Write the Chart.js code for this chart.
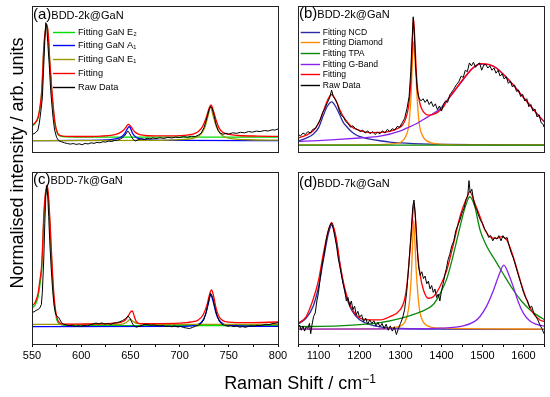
<!DOCTYPE html>
<html>
<head>
<meta charset="utf-8">
<script src="https://cdn.jsdelivr.net/npm/chart.js@4.4.1/dist/chart.umd.min.js"></script>
<style>
  body { margin: 0; background: #fff; }
  #fig { position: relative; width: 550px; height: 397px; overflow: hidden; font-family: Arial, "Liberation Sans", sans-serif; color: #000; }
  #fig canvas { position: absolute; left: 0; top: 0; }
  #titreX { position: absolute; left: 150px; width: 300px; top: 373px; text-align: center; font-size: 18px; line-height: 20px; white-space: nowrap; }
  #titreX sup { font-size: 12px; position: relative; top: -6px; vertical-align: baseline; }
  #titreY { position: absolute; left: -133px; top: 153px; width: 300px; height: 20px; line-height: 20px; text-align: center; font-size: 18px; white-space: nowrap; transform: rotate(-90deg); }
</style>
</head>
<body>
<div id="fig">
  <canvas id="chartA" width="550" height="397"></canvas>
  <canvas id="chartB" width="550" height="397"></canvas>
  <canvas id="chartC" width="550" height="397"></canvas>
  <canvas id="chartD" width="550" height="397"></canvas>
  <div id="titreX">Raman Shift / cm<sup>−1</sup></div>
  <div id="titreY">Normalised intensity / arb. units</div>
</div>
<script>
'use strict';

//labels des axes
const ticksGaN = [550, 600, 650, 700, 750, 800];
const ticksDiam = [1100, 1200, 1300, 1400, 1500, 1600];

const lettres = ['(a)', '(b)', '(c)', '(d)'];
const echantillons = ['BDD-2k@GaN', 'BDD-2k@GaN', 'BDD-7k@GaN', 'BDD-7k@GaN'];

const legendeGaN = ['Fitting GaN E₂', 'Fitting GaN A₁', 'Fitting GaN E₁', 'Fitting', 'Raw Data'];
const couleursGaN = ['#00dd00', '#0000ff', '#999900', '#ff0000', '#000000'];
const legendeDiam = ['Fitting NCD', 'Fitting Diamond', 'Fitting TPA', 'Fitting G-Band', 'Fitting', 'Raw Data'];
const couleursDiam = ['#2a2aa8', '#ff8c00', '#0a8a0a', '#8822ee', '#ff0000', '#000000'];

// ---- (a) BDD-2k@GaN, zone GaN : [shift, intensite]
const aE2 = [[550,17.5],[553,19.5],[556,23],[558,30],[560,42],[562,70],[563.5,82],[565,86.5],[566.5,80],[568,62],[570,42],[571.5,30],[573.5,18.5],[576,12.5],[579,10.8],[585,10.3],[600,10.2],[700,10.2],[800,10.2]];
const aA1 = [[550,7.8],[600,7.9],[625,8.3],[635,9],[641,10.5],[644.5,13],[647,16],[648.5,17.3],[650,16.5],[652,13],[655,10.5],[660,9],[670,8.3],[700,7.9],[800,7.8]];
const aE1 = [[550,7.8],[680,8],[705,8.6],[716,9.8],[722,12.5],[726,17.5],[729,25],[731.5,31],[734,25],[737,18],[741,13],[746,10.3],[755,9],[770,8.4],[800,8.1]];
const aFit = [[550,18.3],[553,20],[556,23.5],[558,30],[560,43],[562,72],[563.5,83],[565,87.5],[566.5,81],[568,63],[570,44],[571.5,32],[573.5,19.5],[576,13],[579,11.3],[585,10.7],[600,10.6],[620,10.9],[632,11.6],[638,12.8],[642,14.3],[645,16.5],[648,18.9],[651,17],[654,14],[658,12.2],[665,11.3],[680,11],[700,11.2],[712,12],[718,13.5],[723,17],[727,23.5],[730,30],[732,32.3],[734,29],[737,22],[740,16.5],[744,13.5],[750,12],[760,11.3],[780,10.9],[800,10.7]];
const aRaw = [[550,12.2],[552,12.5],[554,13.5],[556,15],[557.5,20],[559,28],[560.5,37],[562,60],[563,76],[564,88.6],[565,86],[566,75],[567.5,60],[569,42],[570.5,30],[571.5,23],[573,15],[575,10],[577,7.8],[580,7],[583,6.3],[586,5.8],[589,5.4],[592,5.8],[595,5.2],[598,5.6],[601,5],[604,5.9],[607,5.5],[610,6.3],[613,5.9],[616,6.6],[619,6.3],[622,7],[625,6.8],[628,7.5],[631,7.2],[634,7.9],[637,8.1],[640,9],[642,9.8],[644,11],[646,13],[647.5,14.3],[649,13],[651,10.5],[653,8.5],[655,7.6],[658,8.4],[661,9.1],[664,8.6],[667,9.4],[670,9],[673,9.6],[676,9.2],[680,9.7],[684,9.3],[688,10],[692,9.6],[696,10.2],[700,9.9],[704,10.5],[708,10.1],[712,10.8],[716,10.6],[719,11.5],[722,13],[725,17],[728,24],[730,29],[731.5,31.3],[733,30],[735,25],[737,19],[739,15],[741,13],[744,12.2],[747,12.7],[750,12.3],[754,13.1],[758,12.8],[762,13.5],[766,13.1],[770,14],[774,13.6],[778,14.3],[782,14],[786,14.7],[790,14.4],[794,15.2],[797,15],[800,15.8]];

// ---- (c) BDD-7k@GaN
const cE2 = [[550,20.7],[553,22.5],[556,27],[558,34],[560,45],[562,72],[563.5,85],[565.5,91],[567,82],[568.5,66],[570.5,42],[572.5,25],[575,14.5],[578,11.6],[582,10.9],[590,10.7],[800,10.7]];
const cA1 = [[550,10.1],[700,10.2],[715,10.8],[722,12.5],[726,16.5],[729,23],[731.5,28.5],[734,25],[737,18],[740,14],[745,11.5],[755,10.6],[800,10.2]];
const cE1 = [[550,11.4],[640,11.4],[646,12.5],[650,14.5],[653,13],[658,11.8],[670,11.4],[800,11.4]];
const cFit = [[550,22.1],[553,24],[556,29],[558,37],[560,47],[562,75],[563.5,87],[565.5,92.4],[567,84],[568.5,69],[570.5,45],[572.5,27],[575,16],[578,12.3],[582,11.6],[590,11.5],[610,11.7],[630,12],[640,12.6],[645,14],[648,16.5],[650,18.5],[652,19.2],[654,16],[656,13],[660,11.9],[680,11.9],[700,12.1],[712,12.8],[719,14],[724,17],[728,23],[730.5,29],[732.5,31.4],[734.5,28],[737,21],[740,16],[744,13.6],[750,12.7],[770,12.4],[800,12.8]];
const cRaw = [[550,18.8],[552,18.6],[554,19.5],[556,20],[558,21],[559.5,23],[560.5,30],[562,50],[563,70],[564,86],[565,92],[566,86],[567,74],[568,60],[569.5,44],[571,31],[572.5,22],[574,17.5],[575.5,16],[577,15.5],[578.5,14],[580,12.5],[582,11.5],[585,11],[588,10.6],[591,10.9],[594,10.2],[597,10.6],[600,10.3],[603,10.8],[606,10.4],[609,11.2],[612,11.6],[615,12.2],[618,11.7],[621,12.3],[624,11.6],[627,12],[630,11.4],[633,12.1],[636,12.4],[639,12.9],[642,13.6],[645,14.7],[647.5,16.3],[649.5,15],[651.5,12.5],[653.5,10.6],[656,9.8],[659,10.3],[662,10.9],[665,11.5],[668,11.2],[671,10.9],[674,11.1],[677,10.7],[680,10.5],[683,10.8],[686,10.2],[689,10.4],[692,10],[695,10.5],[698,9.9],[701,10.2],[704,9.6],[707,9.3],[710,9],[713,9.6],[716,10.3],[719,10.8],[722,12],[724.5,14],[727,18.5],[729.5,25],[731.5,29.5],[733.5,27.5],[735.5,22],[738,16.5],[740.5,13],[743,11.5],[746,10.8],[749,10.3],[752,10.6],[755,10.1],[758,10.5],[761,9.8],[764,10.1],[767,9.7],[770,10.3],[773,10.6],[776,10.3],[779,10.9],[782,10.6],[785,11.1],[788,11.4],[791,11.2],[794,11.8],[797,12.1],[800,12.3]];

// ---- (b) BDD-2k@GaN, zone diamant
const bNCD = [[1050,7.6],[1070,9.5],[1087,12.2],[1100,16.5],[1112,25.3],[1122,31.5],[1132,34.3],[1142,31],[1152,25.3],[1160,20.5],[1169,17.3],[1180,14],[1193,11.5],[1210,9.8],[1226,8.8],[1250,7.7],[1274,6.8],[1300,6.2],[1331,5.8],[1413,5.2],[1500,5],[1650,4.8]];
const bDiam = [[1050,4.8],[1200,4.9],[1260,5.2],[1285,5.8],[1299,6.5],[1308,8.5],[1315,12.2],[1320,18],[1323,27],[1326,40],[1329,63],[1331.5,75.5],[1334,68],[1338,51],[1341,35],[1343,27],[1347,17],[1351,13],[1357,9.5],[1364,7.6],[1375,6.3],[1388,5.6],[1420,5.1],[1500,4.9],[1650,4.8]];
const bTPA = [[1050,4.7],[1350,4.7],[1650,4.7]];
const bG = [[1050,7.2],[1100,7.8],[1150,8.6],[1200,9.6],[1250,10.8],[1300,14.5],[1315,16.3],[1336,19],[1356,22.3],[1378,26],[1396,29.5],[1413,35],[1430,41],[1453,49.5],[1475,57],[1494,60.2],[1515,59.8],[1535,57.2],[1555,52],[1575,46],[1595,39],[1616,32],[1635,25.5],[1652,20.3]];
const bFit = [[1050,9.6],[1070,11.5],[1087,14.5],[1100,19.5],[1112,28],[1122,35.5],[1132,39.4],[1142,35.5],[1152,29],[1160,24.5],[1169,21],[1180,17.5],[1193,15.5],[1210,14],[1226,13.3],[1250,13.4],[1274,14.2],[1292,16],[1305,18.5],[1313,23],[1319,30],[1323,40],[1326,52],[1329,75],[1331.5,91.6],[1334,82],[1337,64],[1340,48],[1344,38],[1349,31.5],[1356,27.5],[1368,25.3],[1380,25.8],[1392,27.5],[1404,30.5],[1413,35],[1430,41.5],[1453,50],[1475,57.2],[1494,60.5],[1515,60],[1535,57.4],[1555,52],[1575,46],[1595,39],[1616,32],[1635,25.5],[1652,20.3]];
const bRaw = [[1050,12.2],[1056,11],[1062,13],[1068,12],[1074,14],[1080,13],[1086,15.5],[1092,16],[1098,19],[1104,22],[1110,27],[1116,30],[1122,34],[1127,37],[1132,42.4],[1136,38],[1141,36],[1146,33],[1151,28],[1156,25],[1161,24],[1166,21],[1172,19.5],[1178,17],[1184,18],[1190,16],[1196,15.3],[1202,14],[1208,15],[1214,13],[1220,14.5],[1226,12.5],[1232,14],[1238,12],[1244,13.5],[1250,12.5],[1256,14.5],[1262,13],[1268,15.5],[1274,14],[1280,16],[1286,15],[1292,17.5],[1298,17],[1304,20],[1310,23],[1316,30],[1321,38],[1325,55],[1328,75],[1331,92.6],[1334,80],[1337,58],[1341,42],[1345,37],[1350,35],[1355,36.5],[1360,34],[1365,36],[1370,32.5],[1375,34.5],[1380,31],[1385,33],[1390,29],[1395,31.5],[1400,28],[1405,33],[1410,35],[1415,34],[1420,39],[1425,41],[1430,43],[1436,46],[1442,48],[1448,52],[1453,51],[1458,56],[1463,55],[1468,61],[1473,59],[1478,61.5],[1483,58],[1488,60],[1493,61],[1498,56],[1503,59.5],[1508,60],[1513,57.5],[1518,59],[1523,56],[1528,57.5],[1533,54],[1538,56],[1543,52],[1548,53.5],[1553,50],[1558,51.5],[1563,47],[1568,48.5],[1573,44.5],[1578,46],[1583,41.5],[1588,42.5],[1593,38],[1598,39.5],[1603,35],[1608,36.5],[1613,31],[1618,32.5],[1623,28],[1628,29.5],[1633,24],[1638,25.5],[1643,20],[1648,19],[1650,17]];

// ---- (d) BDD-7k@GaN, zone diamant
const dNCD = [[1050,11.6],[1070,15],[1087,22],[1100,33],[1112,49],[1124,64],[1132,69.2],[1140,64],[1148,53],[1156,41],[1165,30],[1177,21.5],[1190,16.5],[1201,14],[1226,11.2],[1250,9.9],[1300,9],[1400,8.7],[1650,8.5]];
const dDiam = [[1050,8.7],[1250,8.8],[1285,9.6],[1300,10.5],[1310,12.5],[1317,17],[1322,25],[1326,38],[1329,55],[1332,72],[1335,60],[1338,44],[1342,30],[1347,19],[1353,14],[1360,11.5],[1372,10],[1400,9.2],[1650,8.7]];
const dTPA = [[1050,10.1],[1150,10.5],[1250,12.4],[1300,14.9],[1350,18.8],[1380,23],[1396,29],[1413,38],[1429,52],[1445,68],[1457,79],[1469,85.6],[1481,80],[1494,66.3],[1510,57],[1535,47],[1555,39],[1575,31.4],[1595,25],[1616,19.8],[1635,16.5],[1652,14]];
const dG = [[1050,8.7],[1300,8.8],[1400,9.2],[1453,10.5],[1480,13],[1494,16],[1510,22],[1527,31.4],[1540,40],[1552,45.9],[1563,41],[1575,33.3],[1588,24],[1600,17.8],[1615,13.5],[1630,11.5],[1652,10.3]];
const dFit = [[1050,12],[1070,16],[1087,26],[1100,37],[1112,52.7],[1124,66],[1132,70.5],[1144,60.5],[1152,47],[1165,31.4],[1177,22.5],[1190,17.5],[1201,15],[1226,14],[1250,14],[1274,15.9],[1299,19.8],[1309,25],[1315,33],[1321,48],[1327,66],[1333,81.8],[1338,68],[1342,52],[1348,40],[1356,31.4],[1368,26.6],[1380,27.5],[1396,33.3],[1413,43],[1429,58],[1445,74],[1461,84.6],[1469,88.6],[1481,82],[1494,74],[1506,66.3],[1518,62.4],[1535,61.4],[1547,62.4],[1559,60.5],[1575,50.8],[1592,37],[1608,25.6],[1624,17.8],[1640,14],[1652,13]];
const dRaw = [[1050,9],[1054,11],[1058,8],[1062,10.5],[1066,7.5],[1070,10],[1074,9],[1078,12],[1081,6],[1084,11],[1088,16],[1092,18],[1096,25],[1100,30],[1104,38],[1108,45],[1112,50],[1116,56],[1120,62],[1124,66],[1128,69],[1132,70.5],[1136,67],[1140,62],[1144,57],[1148,50],[1152,45],[1156,40],[1160,35],[1164,31],[1168,25],[1172,27],[1176,22],[1180,25],[1184,20],[1188,22],[1192,17],[1196,19],[1200,15.5],[1205,17],[1210,13],[1215,15],[1220,11.5],[1225,14],[1230,12],[1235,13.5],[1240,10.5],[1245,12.5],[1250,10],[1255,12],[1260,9],[1265,11.5],[1270,8],[1275,10.5],[1280,7.5],[1285,10],[1290,5.5],[1295,9],[1300,12],[1305,15],[1310,20],[1315,30],[1320,45],[1325,62],[1330,80],[1333,83.7],[1336,75],[1340,58],[1344,45],[1348,40],[1352,42],[1356,38],[1360,39.5],[1364,35],[1368,36.5],[1372,32],[1376,34],[1380,30],[1384,32],[1388,27],[1392,29],[1396,25],[1400,31],[1404,35],[1408,40],[1412,44],[1416,49],[1420,52],[1425,57],[1430,60],[1435,66],[1440,69],[1445,72],[1450,76],[1455,79],[1460,84],[1464,86],[1467,95],[1470,88],[1474,90],[1478,84],[1482,80],[1486,78],[1490,75],[1495,72],[1500,70],[1505,67],[1510,65],[1515,62],[1520,63],[1525,60],[1530,62],[1535,61],[1540,63],[1545,60],[1550,63],[1555,61],[1560,62],[1565,57],[1570,53],[1575,50],[1580,46],[1585,42],[1590,38],[1595,34],[1600,30],[1605,27],[1610,25],[1615,21],[1620,22],[1625,18],[1630,16],[1635,14],[1640,11],[1645,9],[1650,6]];

const police = 'Arial, "Liberation Sans", sans-serif';

//cadre, lettre du panneau, nom de l'echantillon et legende
const decoPanneau = {
  id: 'decoPanneau',
  afterDatasetsDraw(chart, args, opts) {
    const ctx = chart.ctx;
    const a = chart.chartArea;
    ctx.save();
    ctx.strokeStyle = '#222';
    ctx.lineWidth = 1;
    ctx.strokeRect(Math.round(a.left) + 0.5, Math.round(a.top) + 0.5,
      Math.round(a.right - a.left), Math.round(a.bottom - a.top));

    ctx.fillStyle = '#000';
    ctx.textBaseline = 'alphabetic';
    ctx.font = '15px ' + police;
    const xl = a.left + 1;
    const yl = a.top + opts.basLigne;
    ctx.fillText(opts.lettre, xl, yl);
    const w = ctx.measureText(opts.lettre).width;
    ctx.font = '11px ' + police;
    ctx.fillText(opts.nom, xl + w, yl);

    const L = opts.legende;
    if (L) {
      ctx.font = L.taille + 'px ' + police;
      ctx.textBaseline = 'middle';
      chart.data.datasets.forEach((ds, i) => {
        const y = Math.round(a.top + L.y0 + i * L.pas) + 0.5;
        ctx.strokeStyle = ds.borderColor;
        ctx.lineWidth = 1.4;
        ctx.beginPath();
        ctx.moveTo(a.left + L.x1, y);
        ctx.lineTo(a.left + L.x2, y);
        ctx.stroke();
        ctx.fillText(ds.label, a.left + L.xt, y);
      });
    }
    ctx.restore();
  }
};

function jeuDonnees(series, labels, couleurs) {
  const n = series.length;
  return series.map((s, i) => ({
    label: labels[i],
    data: s.map(p => ({ x: p[0], y: p[1] })),
    borderColor: couleurs[i],
    borderWidth: i === n - 1 ? 1 : 1.3,
    pointRadius: 0,
    tension: 0,
    cubicInterpolationMode: i === n - 1 ? 'default' : 'monotone',
    order: n - 1 - i
  }));
}

function creerPanneau(id, p) {
  const axeX = {
    type: 'linear',
    min: p.min,
    max: p.max,
    display: p.axe,
    border: { display: false },
    grid: { drawOnChartArea: false, drawTicks: true, tickLength: 3, color: '#000', lineWidth: 1 },
    ticks: {
      stepSize: p.pas,
      autoSkip: false,
      maxRotation: 0,
      padding: 2,
      color: '#000',
      font: { family: police, size: 11 },
      callback: v => (p.ticks.includes(v) ? String(v) : '')
    },
    afterFit: s => { s.height = 20; }
  };

  return new Chart(document.getElementById(id), {
    type: 'line',
    data: { datasets: jeuDonnees(p.series, p.labels, p.couleurs) },
    options: {
      responsive: false,
      animation: false,
      events: [],
      layout: { padding: p.padding },
      plugins: {
        legend: { display: false },
        tooltip: { enabled: false },
        decoPanneau: { lettre: p.lettre, nom: p.nom, basLigne: p.basLigne, legende: p.legende }
      },
      scales: {
        x: axeX,
        y: { min: 0, max: 100, display: false }
      }
    },
    plugins: [decoPanneau]
  });
}

creerPanneau('chartA', {
  series: [aE2, aA1, aE1, aFit, aRaw], labels: legendeGaN, couleurs: couleursGaN,
  min: 550, max: 800, pas: 25, ticks: ticksGaN, axe: false,
  padding: { left: 32, right: 272, top: 6, bottom: 225 },
  lettre: lettres[0], nom: echantillons[0], basLigne: 13.3,
  legende: { x1: 21, x2: 43, xt: 46, y0: 25.7, pas: 13.7, taille: 9.2 }
});

creerPanneau('chartB', {
  series: [bNCD, bDiam, bTPA, bG, bFit, bRaw], labels: legendeDiam, couleurs: couleursDiam,
  min: 1050, max: 1650, pas: 50, ticks: ticksDiam, axe: false,
  padding: { left: 298, right: 6, top: 6, bottom: 225 },
  lettre: lettres[1], nom: echantillons[1], basLigne: 12.3,
  legende: { x1: 2.7, x2: 22, xt: 24.7, y0: 25.7, pas: 10.6, taille: 8.6 }
});

creerPanneau('chartC', {
  series: [cE2, cA1, cE1, cFit, cRaw], labels: legendeGaN, couleurs: couleursGaN,
  min: 550, max: 800, pas: 25, ticks: ticksGaN, axe: true,
  padding: { left: 32, right: 272, top: 172, bottom: 33 },
  lettre: lettres[2], nom: echantillons[2], basLigne: 11.7, legende: null
});

creerPanneau('chartD', {
  series: [dNCD, dDiam, dTPA, dG, dFit, dRaw], labels: legendeDiam, couleurs: couleursDiam,
  min: 1050, max: 1650, pas: 50, ticks: ticksDiam, axe: true,
  padding: { left: 298, right: 6, top: 172, bottom: 33 },
  lettre: lettres[3], nom: echantillons[3], basLigne: 15, legende: null
});
</script>
</body>
</html>
